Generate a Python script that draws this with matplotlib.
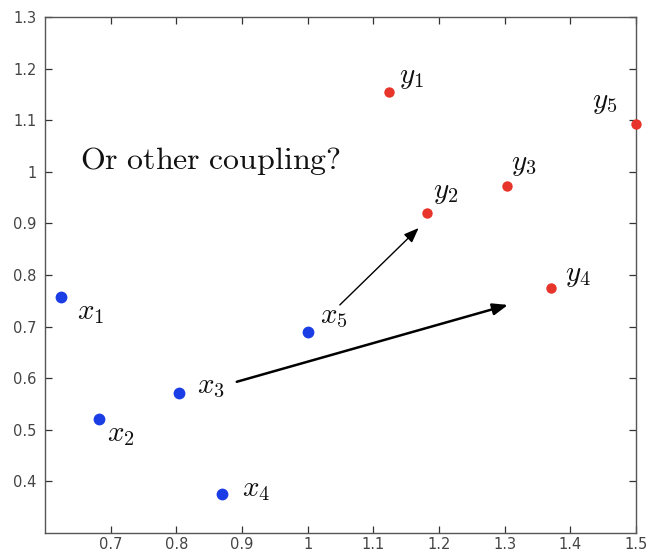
import matplotlib
matplotlib.use("Agg")
import matplotlib.pyplot as plt

plt.rcParams["mathtext.fontset"] = "cm"

# Source points (blue) and target points (red)
x_names = ["x_1", "x_2", "x_3", "x_4", "x_5"]
x_px = [0.624, 0.683, 0.804, 0.869, 1.000]
x_py = [0.757, 0.520, 0.571, 0.375, 0.690]

y_names = ["y_1", "y_2", "y_3", "y_4", "y_5"]
y_px = [1.124, 1.182, 1.303, 1.370, 1.500]
y_py = [1.155, 0.920, 0.972, 0.774, 1.092]

# Label offsets in pixels (dx, dy) relative to each point
x_offsets = [(16, -15), (8, -15), (18, 7), (20, 5), (12, 16)]
y_offsets = [(10, 15), (6, 21), (4, 22), (14, 13), (-44, 22)]

# Arrows: (tail_x, tail_y, head_x, head_y, linewidth)
arrows = [
    (1.049, 0.742, 1.169, 0.891, 1.0),
    (0.892, 0.593, 1.305, 0.742, 1.8),
]

xticks = [0.7, 0.8, 0.9, 1.0, 1.1, 1.2, 1.3, 1.4, 1.5]
xticklabels = ["0.7", "0.8", "0.9", "1", "1.1", "1.2", "1.3", "1.4", "1.5"]
yticks = [0.4, 0.5, 0.6, 0.7, 0.8, 0.9, 1.0, 1.1, 1.2, 1.3]
yticklabels = ["0.4", "0.5", "0.6", "0.7", "0.8", "0.9", "1", "1.1", "1.2", "1.3"]

fig = plt.figure(figsize=(6.48, 5.53), dpi=100)
ax = fig.add_axes([0.0694, 0.0362, 0.9121, 0.9331])

ax.plot(x_px, x_py, "o", color="#1a3de6", markersize=8.5, markeredgewidth=0,
        clip_on=False, zorder=3)
ax.plot(y_px, y_py, "o", color="#e8352b", markersize=7.5, markeredgewidth=0,
        clip_on=False, zorder=3)

for name, px, py, (dx, dy) in zip(x_names, x_px, x_py, x_offsets):
    ax.annotate(f"${name}$", (px, py), xytext=(dx, dy), textcoords="offset pixels",
                ha="left", va="center", fontsize=21, color="#111111")
for name, px, py, (dx, dy) in zip(y_names, y_px, y_py, y_offsets):
    ax.annotate(f"${name}$", (px, py), xytext=(dx, dy), textcoords="offset pixels",
                ha="left", va="center", fontsize=21, color="#111111")

for tx, ty, hx, hy, lw in arrows:
    ax.annotate("", xy=(hx, hy), xytext=(tx, ty),
                arrowprops=dict(arrowstyle="-|>,head_length=0.9,head_width=0.35",
                                color="black", lw=lw, shrinkA=0, shrinkB=0))

ax.text(0.653, 1.02, r"$\mathrm{Or\ other\ coupling?}$", fontsize=23,
        ha="left", va="center", color="#111111")

ax.set_xlim(0.6, 1.5)
ax.set_ylim(0.3, 1.3)
ax.set_xticks(xticks)
ax.set_xticklabels(xticklabels)
ax.set_yticks(yticks)
ax.set_yticklabels(yticklabels)
ax.tick_params(direction="in", length=5, width=0.9, color="#333333",
               labelcolor="#444444", labelsize=10.5, top=True, right=True)
ax.tick_params(axis="x", pad=3)
ax.tick_params(axis="y", pad=6)
for s in ax.spines.values():
    s.set_color("#555555")
    s.set_linewidth(1.0)

fig.savefig("out.png", dpi=100)
